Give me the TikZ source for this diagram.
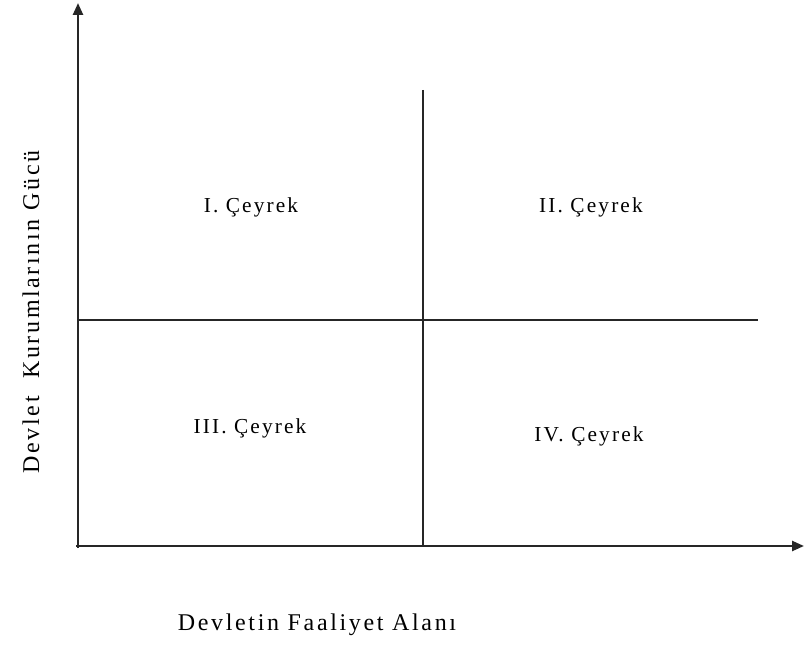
\documentclass[tikz,border=0pt]{standalone}
\usepackage{fontspec}
\setmainfont{Liberation Serif}[LetterSpace=10]
\usetikzlibrary{arrows.meta}
\begin{document}
\begin{tikzpicture}[x=0.75pt,y=-0.75pt,
  axis/.style={line width=1.8pt,draw=black!85,-{Triangle[length=9pt,width=7.5pt]}},
  divider/.style={line width=1.1pt,draw=black!85},
  lbl/.style={font=\fontsize{16}{19}\selectfont,inner sep=0pt},
  axlbl/.style={font=\fontsize{18}{21}\selectfont\addfontfeature{LetterSpace=11},inner sep=0pt}]
\useasboundingbox (0,0) rectangle (804,649);
\coordinate (o) at (78,548);
\coordinate (ytop) at (78,3);
\coordinate (xo) at (76,546);
\coordinate (xend) at (804,546);
\coordinate (vtop) at (423,90);
\coordinate (vbot) at (423,546);
\coordinate (hl) at (78,320);
\coordinate (hr) at (758,320);
\draw[axis] (o) -- (ytop);
\draw[axis] (xo) -- (xend);
\draw[divider] (vtop) -- (vbot);
\draw[divider] (hl) -- (hr);
\node[lbl] (q1) at (251,207) {I. Çeyrek};
\node[lbl] (q2) at (591,207) {II. Çeyrek};
\node[lbl] (q3) at (250,428) {III. Çeyrek};
\node[lbl] (q4) at (589,436) {IV. Çeyrek};
\node[axlbl,rotate=90] (ylab) at (31,312) {Devlet\ \ Kurumlarının Gücü};
\node[axlbl] (xlab) at (317,625) {Devletin Faaliyet Alanı};
\end{tikzpicture}
\end{document}
